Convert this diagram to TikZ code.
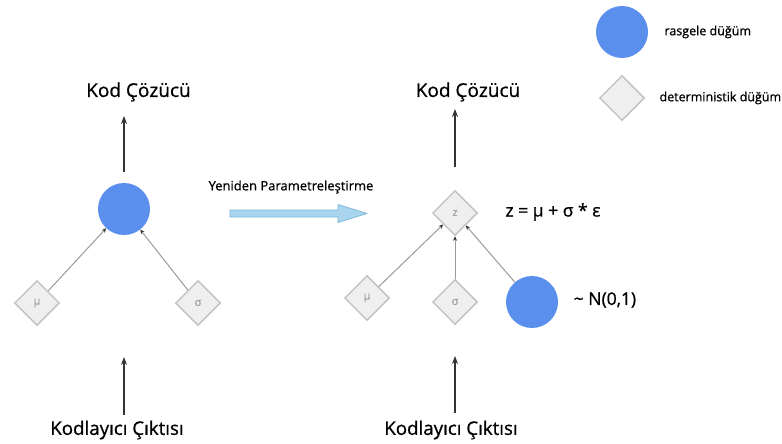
\documentclass[tikz,border=0pt]{standalone}
\usepackage{fontspec}
\setmainfont{Open Sans}
\newfontfamily\medf{Open Sans}[BoldFont={Open Sans},BoldFeatures={FakeBold=0.8}]
\usetikzlibrary{shapes.geometric,arrows.meta}
\definecolor{rnd}{HTML}{5B8FEE}
\definecolor{dfill}{HTML}{EFEFEF}
\definecolor{dline}{HTML}{C4C4C4}
\definecolor{dtext}{HTML}{A0A0A0}
\definecolor{lineg}{HTML}{9A9A9A}
\definecolor{dark}{HTML}{333333}
\definecolor{bafill}{HTML}{A9D6EE}
\definecolor{baline}{HTML}{7FB8DA}
\tikzset{
  rndnode/.style={circle,fill=rnd,draw=none,minimum size=52pt,inner sep=0pt},
  detnode/.style={diamond,fill=dfill,draw=dline,line width=1.5pt,minimum width=45pt,minimum height=45pt,inner sep=0pt,text=dtext,font=\fontsize{11}{13}\selectfont\medf\bfseries},
  bigtxt/.style={font=\fontsize{19}{22}\selectfont\medf\bfseries,text=black},
  enctxt/.style={font=\fontsize{18.7}{22}\selectfont\medf\bfseries,text=black},
  vup/.style={draw=dark,line width=1.6pt,-{Stealth[length=8pt,width=6pt]}},
  diag/.style={draw=lineg,line width=1pt,-{Stealth[length=4.5pt,width=4pt,color=dark]}},
  legtxt/.style={anchor=west,font=\fontsize{12.5}{15}\selectfont\medf\bfseries},
}
\begin{document}
\begin{tikzpicture}[x=1pt,y=-1pt]
\useasboundingbox (0,0) rectangle (782,444);
% left diagram
\node[bigtxt] (dec1) at (138.5,92) {Kod Çözücü};
\node[rndnode] (c1) at (124,209) {};
\node[detnode] (mu1) at (37,303) {μ};
\node[detnode] (s1) at (198,303) {σ};
\node[enctxt] (enc1) at (117,430) {Kodlayıcı Çıktısı};
\coordinate (t1a) at (124,172);
\coordinate (t1b) at (124,116);
\coordinate (b1a) at (124,415);
\coordinate (b1b) at (124,357);
\draw[vup] (t1a) -- (t1b);
\draw[vup] (b1a) -- (b1b);
\draw[diag] (mu1) -- (c1);
\draw[diag] (s1) -- (c1);
% middle arrow
\node[font=\fontsize{13}{16}\selectfont\medf\bfseries] (rep) at (291,187) {Yeniden Parametreleştirme};
\coordinate (a0) at (230,210);
\coordinate (a1) at (338,210);
\coordinate (a2) at (338,204.5);
\coordinate (a3) at (367,213.5);
\coordinate (a4) at (338,222.5);
\coordinate (a5) at (338,217);
\coordinate (a6) at (230,217);
\draw[fill=bafill,draw=baline,line width=0.8pt,line join=round] (a0) -- (a1) -- (a2) -- (a3) -- (a4) -- (a5) -- (a6) -- cycle;
% right diagram
\node[bigtxt] (dec2) at (468,92) {Kod Çözücü};
\node[detnode] (z) at (455,213) {z};
\node[font=\fontsize{17.5}{21}\selectfont\medf\bfseries] (eq) at (553,212) {z = μ + σ * ε};
\node[detnode] (mu2) at (367,298) {μ};
\node[detnode] (s2) at (455,302) {σ};
\node[rndnode] (c2) at (532,302) {};
\node[font=\fontsize{17.5}{21}\selectfont\medf\bfseries] (nd) at (605,300) {\char"7E\ N(0,1)};
\node[enctxt] (enc2) at (451,430) {Kodlayıcı Çıktısı};
\coordinate (t2a) at (455,167);
\coordinate (t2b) at (455,109);
\coordinate (b2a) at (455,413);
\coordinate (b2b) at (455,356);
\draw[vup] (t2a) -- (t2b);
\draw[vup] (b2a) -- (b2b);
\draw[diag] (mu2) -- (z);
\draw[diag] (s2) -- (z);
\draw[diag] (c2) -- (z);
% legend
\node[rndnode] (lc) at (622,32) {};
\node[legtxt] (lct) at (661,32) {rasgele düğüm};
\node[detnode] (ld) at (622,98) {};
\node[legtxt] (ldt) at (656,98) {deterministik düğüm};
\end{tikzpicture}
\end{document}
